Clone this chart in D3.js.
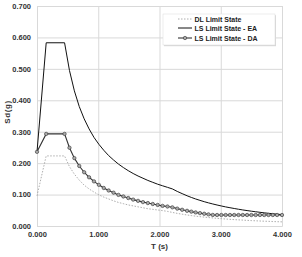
<!doctype html>
<html lang='en'>
  <head>
    <meta charset='utf-8' />
    <style>
      * { padding: 0; margin: 0; }
      body { background: #fff; font-family: 'Liberation Sans', Arial, sans-serif; }
      svg { display: block; }
    </style>
  </head>
  <body>
    <div id='container'></div>
    <script src='https://d3js.org/d3.v7.min.js'></script>
    <script type='text/javascript'>

      // period T (s)
      var periods = [0, 0.15, 0.45, 0.53, 0.61, 0.69, 0.77, 0.85, 0.93, 1.01, 1.09, 1.17, 1.25,
        1.33, 1.41, 1.49, 1.57, 1.65, 1.73, 1.81, 1.89, 1.97, 2.05, 2.13, 2.21, 2.29, 2.37, 2.45,
        2.52, 2.59, 2.66, 2.73, 2.80, 2.87, 2.94, 3.01, 3.08, 3.15, 3.22, 3.29, 3.36, 3.43, 3.50,
        3.57, 3.64, 3.71, 3.78, 3.85, 3.92, 4.00];

      var dlValues = [0.096, 0.223, 0.223, 0.189, 0.165, 0.146, 0.130, 0.118, 0.108, 0.099, 0.092,
        0.086, 0.080, 0.075, 0.071, 0.067, 0.064, 0.061, 0.058, 0.055, 0.053, 0.051, 0.049, 0.0465,
        0.0432, 0.0402, 0.0375, 0.0351, 0.0332, 0.0314, 0.0298, 0.0283, 0.0269, 0.0256, 0.0244,
        0.0233, 0.0222, 0.0212, 0.0203, 0.0195, 0.0187, 0.0179, 0.0172, 0.0165, 0.0159, 0.0153,
        0.0148, 0.0142, 0.0137, 0.0132];

      var eaValues = [0.236, 0.583, 0.583, 0.495, 0.430, 0.380, 0.341, 0.309, 0.282, 0.260, 0.241,
        0.224, 0.210, 0.197, 0.186, 0.176, 0.167, 0.159, 0.152, 0.145, 0.139, 0.133, 0.128, 0.123,
        0.118, 0.110, 0.103, 0.0962, 0.0909, 0.0860, 0.0816, 0.0774, 0.0736, 0.0701, 0.0668,
        0.0637, 0.0608, 0.0582, 0.0557, 0.0533, 0.0511, 0.0491, 0.0471, 0.0453, 0.0436, 0.0419,
        0.0404, 0.0389, 0.0376, 0.0361];

      var daValues = [0.236, 0.293, 0.293, 0.249, 0.216, 0.191, 0.171, 0.155, 0.142, 0.131, 0.121,
        0.113, 0.106, 0.099, 0.094, 0.089, 0.084, 0.080, 0.076, 0.073, 0.070, 0.067, 0.064, 0.062,
        0.0594, 0.0553, 0.0516, 0.0483, 0.0457, 0.0432, 0.0410, 0.0389, 0.0370, 0.0352, 0.035,
        0.035, 0.035, 0.035, 0.035, 0.035, 0.035, 0.035, 0.035, 0.035, 0.035, 0.035, 0.035, 0.035,
        0.035, 0.035];

      var xTicks = [0, 1, 2, 3, 4];
      var yTicks = [0, 0.1, 0.2, 0.3, 0.4, 0.5, 0.6, 0.7];
      var seriesNames = ['DL Limit State', 'LS Limit State - EA', 'LS Limit State - DA'];

      const svg_width = 302,
            svg_height = 257,
            plot_left = 37, plot_right = 282, plot_top = 6, plot_bottom = 226;

      var svg = d3.select('#container').append('svg')
          .attr('width', svg_width)
          .attr('height', svg_height);

      var x = d3.scaleLinear().domain([0, 4]).range([plot_left, plot_right]);
      var y = d3.scaleLinear().domain([0, 0.7]).range([plot_bottom, plot_top]);

      // gridlines
      svg.append('g')
        .attr('transform', 'translate(0,' + plot_bottom + ')')
        .call(d3.axisBottom(x).tickValues(xTicks).tickSize(-(plot_bottom - plot_top)).tickFormat(''))
        .call(g => g.select('.domain').attr('stroke', '#d9d9d9'))
        .call(g => g.selectAll('line').attr('stroke', '#d9d9d9'));

      svg.append('g')
        .attr('transform', 'translate(' + plot_left + ',0)')
        .call(d3.axisLeft(y).tickValues(yTicks).tickSize(-(plot_right - plot_left)).tickFormat(''))
        .call(g => g.select('.domain').attr('stroke', '#d9d9d9'))
        .call(g => g.selectAll('line').attr('stroke', '#d9d9d9'));

      // tick labels
      svg.append('g')
        .attr('transform', 'translate(0,' + plot_bottom + ')')
        .call(d3.axisBottom(x).tickValues(xTicks).tickSize(0).tickPadding(6).tickFormat(d3.format('.3f')))
        .call(g => g.select('.domain').remove())
        .call(g => g.selectAll('text')
          .attr('font-family', "'Liberation Sans', Arial, sans-serif")
          .attr('font-size', '7.5px').attr('font-weight', 'bold').attr('fill', '#333'));

      svg.append('g')
        .attr('transform', 'translate(' + plot_left + ',0)')
        .call(d3.axisLeft(y).tickValues(yTicks).tickSize(0).tickPadding(6).tickFormat(d3.format('.3f')))
        .call(g => g.select('.domain').remove())
        .call(g => g.selectAll('text')
          .attr('font-family', "'Liberation Sans', Arial, sans-serif")
          .attr('font-size', '7.5px').attr('font-weight', 'bold').attr('fill', '#333'));

      // axis titles
      svg.append('text')
        .attr('x', (plot_left + plot_right) / 2).attr('y', 249)
        .attr('text-anchor', 'middle')
        .attr('font-size', '8px').attr('font-weight', 'bold').attr('fill', '#333')
        .text('T (s)');

      svg.append('text')
        .attr('transform', 'translate(10,' + ((plot_top + plot_bottom) / 2 - 4) + ') rotate(-90)')
        .attr('text-anchor', 'middle')
        .attr('font-size', '8px').attr('font-weight', 'bold').attr('fill', '#333')
        .attr('letter-spacing', '0.6px')
        .text('Sd(g)');

      var line = d3.line()
        .x(function(d, i) { return x(periods[i]); })
        .y(function(d) { return y(d); });

      svg.append('path').datum(dlValues)
        .attr('d', line).attr('fill', 'none')
        .attr('stroke', '#999').attr('stroke-width', 0.8).attr('stroke-dasharray', '1.5,1.5');

      svg.append('path').datum(eaValues)
        .attr('d', line).attr('fill', 'none')
        .attr('stroke', '#111').attr('stroke-width', 1);

      svg.append('path').datum(daValues)
        .attr('d', line).attr('fill', 'none')
        .attr('stroke', '#333').attr('stroke-width', 1.1);

      svg.selectAll('circle.da')
        .data(daValues)
        .enter()
        .append('circle')
        .attr('class', 'da')
        .attr('cx', function(d, i) { return x(periods[i]); })
        .attr('cy', function(d) { return y(d); })
        .attr('r', 1.7)
        .attr('fill', '#aaa')
        .attr('stroke', '#333')
        .attr('stroke-width', 0.6);

      // legend
      var lg = svg.append('g').attr('transform', 'translate(163,14)');
      lg.append('rect').attr('x', 1).attr('y', 1.2).attr('width', 112).attr('height', 31).attr('fill', '#d6d6d6');
      lg.append('rect').attr('width', 112).attr('height', 31).attr('fill', '#fff').attr('stroke', '#e0e0e0').attr('stroke-width', 0.6);

      var rows = [5, 14, 24];
      seriesNames.forEach(function(name, i) {
        var ly = rows[i];
        var l = lg.append('line').attr('x1', 15).attr('x2', 29).attr('y1', ly).attr('y2', ly);
        if (i === 0) l.attr('stroke', '#999').attr('stroke-width', 0.8).attr('stroke-dasharray', '1.5,1.5');
        if (i === 1) l.attr('stroke', '#111').attr('stroke-width', 1);
        if (i === 2) {
          l.attr('stroke', '#333').attr('stroke-width', 1.1);
          lg.append('circle').attr('cx', 22).attr('cy', ly).attr('r', 1.7)
            .attr('fill', '#aaa').attr('stroke', '#333').attr('stroke-width', 0.6);
        }
        lg.append('text').attr('x', 31.5).attr('y', ly + 2.6)
          .attr('font-size', '7px').attr('font-weight', 'bold').attr('fill', '#222')
          .text(name);
      });
    </script>
  </body>
</html>
